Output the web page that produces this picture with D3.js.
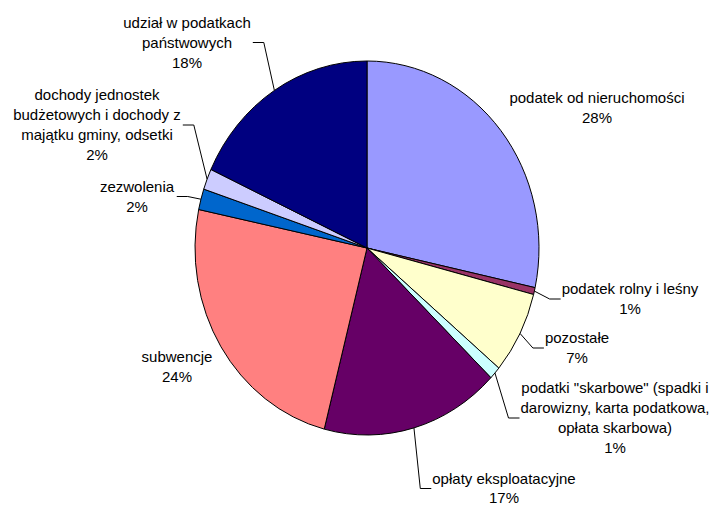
<!DOCTYPE html>
<meta charset="utf-8">
<style>
body {
  margin: 0;
  background: #fff;
}

text {
  font-family: "Liberation Sans", Arial, sans-serif;
  font-size: 15px;
  fill: #000;
}

.slice {
  stroke: #000;
  stroke-width: 1px;
  vector-effect: non-scaling-stroke;
}

.leader {
  fill: none;
  stroke: #000;
  stroke-width: 1px;
}
</style>
<div id="chart"></div>
<script src="https://d3js.org/d3.v7.min.js"></script>
<script>
  // data, clockwise from 12 o'clock
  var categories = [
    "podatek od nieruchomości",
    "podatek rolny i leśny",
    "pozostałe",
    "podatki \"skarbowe\" (spadki i darowizny, karta podatkowa, opłata skarbowa)",
    "opłaty eksploatacyjne",
    "subwencje",
    "zezwolenia",
    "dochody jednostek budżetowych i dochody z majątku gminy, odsetki",
    "udział w podatkach państwowych"
  ];
  var values = [28.4, 0.6, 7.1, 1.1, 16.8, 24.3, 1.8, 1.8, 18.1];
  var colors = ["#9999ff", "#993366", "#ffffcc", "#ccffff", "#660066",
                "#ff8080", "#0066cc", "#ccccff", "#000080"];
  var labelLines = [
    ["podatek od nieruchomości"],
    ["podatek rolny i leśny"],
    ["pozostałe"],
    ["podatki \"skarbowe\" (spadki i", "darowizny, karta podatkowa,", "opłata skarbowa)"],
    ["opłaty eksploatacyjne"],
    ["subwencje"],
    ["zezwolenia"],
    ["dochody jednostek", "budżetowych i dochody z", "majątku gminy, odsetki"],
    ["udział w podatkach", "państwowych"]
  ];

  // layout
  var width = 716, height = 507;
  var cx = 367, cy = 248, rx = 172, ry = 187;
  var lineH = 20;
  // label block centres; side = where the leader leaves the block
  var labelPos = [
    {x: 597, y: 107.5, side: null},
    {x: 630, y: 299, side: "left"},
    {x: 577, y: 348, side: "left"},
    {x: 615, y: 418, side: "left"},
    {x: 504, y: 488.5, side: "left", lh: 19},
    {x: 177, y: 366.5, side: null},
    {x: 137, y: 196.5, side: "right"},
    {x: 97, y: 125, side: "right"},
    {x: 187, y: 42.5, side: "right"}
  ];

  var svg =
    d3.select("#chart")
      .append("svg")
      .attr("width", width)
      .attr("height", height);

  var pie = d3.pie().sort(null).value(function(d) { return d; });
  var arcs = pie(values);

  var arc = d3.arc().innerRadius(0).outerRadius(rx);

  svg.append("g")
      .attr("transform", "translate(" + cx + "," + cy + ") scale(1," + (ry / rx) + ")")
    .selectAll("path")
    .data(arcs)
    .enter()
    .append("path")
      .attr("class", "slice")
      .attr("d", arc)
      .style("fill", function(d, i) { return colors[i]; });

  var labels =
    svg.selectAll(".label")
       .data(arcs)
       .enter()
       .append("g")
       .attr("class", "label");

  labels.each(function(d, i) {
    var g = d3.select(this);
    var pos = labelPos[i];
    var lh = pos.lh || lineH;
    var lines = labelLines[i].concat([Math.round(d.value) + "%"]);
    var top = pos.y - (lines.length - 1) * lh / 2;

    var text = g.append("text").attr("text-anchor", "middle");
    lines.forEach(function(line, k) {
      text.append("tspan")
          .attr("x", pos.x)
          .attr("y", top + k * lh + 5)
          .text(line);
    });

    if (!pos.side) return;

    var box = text.node().getBBox();
    var mid = (d.startAngle + d.endAngle) / 2;
    var ex = cx + rx * Math.sin(mid), ey = cy - ry * Math.cos(mid);
    var sx, kx;
    if (pos.side == "left") {
      sx = box.x - 1;
      kx = sx - 11;
    } else {
      sx = box.x + box.width + 2;
      kx = sx + 11;
    }

    g.append("path")
        .attr("class", "leader")
        .attr("d", "M" + sx + "," + pos.y + "L" + kx + "," + pos.y + "L" + ex + "," + ey);
  });
</script>
